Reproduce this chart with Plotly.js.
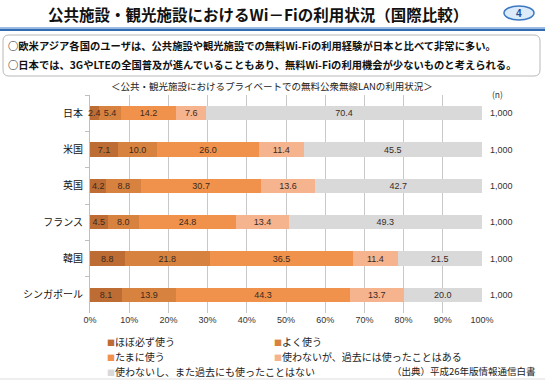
<!DOCTYPE html>
<html>
<head>
<meta charset="utf-8">
<script src="https://cdn.plot.ly/plotly-3.0.1.min.js"></script>
<style>
html,body{margin:0;padding:0;background:#fff;}
#chart{width:545px;height:380px;}
</style>
</head>
<body>
<div id="chart"></div>
<script>
const categories = ['日本','米国','英国','フランス','韓国','シンガポール'];
const seriesNames = ['ほぼ必ず使う','よく使う','たまに使う','使わないが、過去には使ったことはある','使わないし、また過去にも使ったことはない'];
const almostAlways = [2.4, 7.1, 4.2, 4.5, 8.8, 8.1];
const often = [5.4, 10.0, 8.8, 8.0, 21.8, 13.9];
const sometimes = [14.2, 26.0, 30.7, 24.8, 36.5, 44.3];
const pastOnly = [7.6, 11.4, 13.6, 13.4, 11.4, 13.7];
const never = [70.4, 45.5, 42.7, 49.3, 21.5, 20.0];
const sampleSizes = ['1,000','1,000','1,000','1,000','1,000','1,000'];
const xTicks = [0,10,20,30,40,50,60,70,80,90,100];

const colors = ['#BD6C34','#D8823F','#F0924C','#F5B38E','#D9D9D9'];
const values = [almostAlways, often, sometimes, pastOnly, never];

const JP = '"Noto Sans CJK JP", sans-serif';
const NUMFONT = '"Liberation Sans", Arial, sans-serif';

// pixel helpers for decoration (plot area: x 90..482, y 95..313)
const L = 90, R = 482, T = 95, B = 313;
const px = x => (x - L) / (R - L);
const py = y => (B - y) / (B - T);

const NARROW = 4; // segments narrower than this get their label as an annotation
const labelFont = {family: NUMFONT, size: 9, color: '#3a2a1f'};

const traces = values.map((v, i) => ({
  type: 'bar',
  orientation: 'h',
  name: seriesNames[i],
  y: categories,
  x: v,
  marker: {color: colors[i], line: {width: 0}},
  texttemplate: '%{x:.1f}',
  textposition: v.map(val => val < NARROW ? 'none' : 'inside'),
  insidetextanchor: 'middle',
  textangle: 0,
  constraintext: 'none',
  textfont: labelFont,
  hoverinfo: 'skip',
  showlegend: false
}));

const annotations = [];
// labels for narrow segments, placed at the segment's centre
categories.forEach((c, j) => {
  let cum = 0;
  values.forEach(v => {
    if (v[j] < NARROW) {
      annotations.push({xref:'x', yref:'y', x: cum + v[j] / 2, y: c, xanchor:'center', yanchor:'middle',
        text: v[j].toFixed(1), showarrow:false, font: labelFont});
    }
    cum += v[j];
  });
});
// title
annotations.push({xref:'paper', yref:'paper', x: px(258), y: py(14), xanchor:'center', yanchor:'middle',
  text:'公共施設・観光施設におけるWi－Fiの利用状況（国際比較）', showarrow:false,
  font:{family:JP, size:15.5, color:'#111', weight:'bold'}});
// badge number
annotations.push({xref:'paper', yref:'paper', x: px(519), y: py(13), xanchor:'center', yanchor:'middle',
  text:'4', showarrow:false, font:{family:'Arial, sans-serif', size:10, color:'#1f4f9a', weight:'bold'}});
// bullet lines
annotations.push({xref:'paper', yref:'paper', x: px(6), y: py(46), xanchor:'left', yanchor:'middle',
  text:'○欧米アジア各国のユーザは、公共施設や観光施設での無料Wi-Fiの利用経験が日本と比べて非常に多い。', showarrow:false,
  font:{family:JP, size:10.3, color:'#111', weight:'bold'}});
annotations.push({xref:'paper', yref:'paper', x: px(6), y: py(65), xanchor:'left', yanchor:'middle',
  text:'○日本では、3GやLTEの全国普及が進んでいることもあり、無料Wi-Fiの利用機会が少ないものと考えられる。', showarrow:false,
  font:{family:JP, size:10.3, color:'#111', weight:'bold'}});
// chart subtitle
annotations.push({xref:'paper', yref:'paper', x: px(272), y: py(86), xanchor:'center', yanchor:'middle',
  text:'＜公共・観光施設におけるプライベートでの無料公衆無線LANの利用状況＞', showarrow:false,
  font:{family:JP, size:9.5, color:'#222'}});
// (n)
annotations.push({xref:'paper', yref:'paper', x: px(497), y: py(94), xanchor:'center', yanchor:'middle',
  text:'(n)', showarrow:false, font:{family:JP, size:8.5, color:'#333'}});
// sample sizes
categories.forEach((c, i) => {
  annotations.push({xref:'paper', yref:'y', x: px(488), y: c, xanchor:'left', yanchor:'middle',
    text: sampleSizes[i], showarrow:false, font:{family:NUMFONT, size:9, color:'#333'}});
});
// legend (manual)
const legendPos = [[105,341],[272,341],[105,356],[272,356],[105,371]];
seriesNames.forEach((n, i) => {
  annotations.push({xref:'paper', yref:'paper', x: px(legendPos[i][0]), y: py(legendPos[i][1]), xanchor:'left', yanchor:'middle',
    text: '<span style="color:' + colors[i] + ';font-size:8px">■</span>' + n, showarrow:false,
    font:{family:JP, size:10, color:'#222'}});
});
// source
annotations.push({xref:'paper', yref:'paper', x: px(538), y: py(371), xanchor:'right', yanchor:'middle',
  text:'（出典）平成26年版情報通信白書', showarrow:false, font:{family:JP, size:9.5, color:'#222'}});

const boxL = px(3), boxR = px(540), boxT = py(35), boxB = py(76);
const rx = 6/392, ry = 6/218;
const boxPath = `M ${boxL+rx},${boxT} L ${boxR-rx},${boxT} Q ${boxR},${boxT} ${boxR},${boxT-ry} L ${boxR},${boxB+ry} Q ${boxR},${boxB} ${boxR-rx},${boxB} L ${boxL+rx},${boxB} Q ${boxL},${boxB} ${boxL},${boxB+ry} L ${boxL},${boxT-ry} Q ${boxL},${boxT} ${boxL+rx},${boxT} Z`;

const shapes = [
  // blue header line
  {type:'rect', xref:'paper', yref:'paper', x0:px(0), x1:px(545), y0:py(31), y1:py(28.5), fillcolor:'#2F6CB3', line:{width:0}},
  {type:'rect', xref:'paper', yref:'paper', x0:px(0), x1:px(545), y0:py(28.5), y1:py(27), fillcolor:'#9DBCE3', line:{width:0}},
  // bullet box
  {type:'path', xref:'paper', yref:'paper', path: boxPath, line:{color:'#B8B8B8', width:1}, fillcolor:'rgba(0,0,0,0)'},
  // badge
  {type:'circle', xref:'paper', yref:'paper', x0:px(504), x1:px(534), y0:py(20), y1:py(6), fillcolor:'#DCEBFA', line:{color:'#3B78C2', width:1.5}},
  // bottom faint line
  {type:'line', xref:'paper', yref:'paper', x0:px(0), x1:px(545), y0:py(379), y1:py(379), line:{color:'#DDDDDD', width:1}}
];

const layout = {
  width: 545, height: 380,
  margin: {l: L, r: 545 - R, t: T, b: 380 - B, pad: 0},
  paper_bgcolor: '#fff', plot_bgcolor: '#fff',
  barmode: 'stack',
  bargap: 0.61,
  showlegend: false,
  xaxis: {
    range: [0, 100], tickvals: xTicks, ticktext: xTicks.map(t => t + '%'),
    showgrid: true, gridcolor: '#C8C8C8', gridwidth: 1,
    zeroline: false, showline: false, ticks: '',
    tickfont: {family: NUMFONT, size: 9, color: '#333'},
    fixedrange: true
  },
  yaxis: {
    type: 'category', autorange: 'reversed',
    showline: true, linecolor: '#BFBFBF', linewidth: 1,
    ticks: 'outside', tickson: 'boundaries', ticklen: 4, tickcolor: '#BFBFBF',
    showgrid: false,
    tickfont: {family: JP, size: 10, color: '#111'},
    ticklabelstandoff: 4,
    fixedrange: true
  },
  annotations: annotations,
  shapes: shapes,
  font: {family: JP}
};

Plotly.newPlot('chart', traces, layout, {displayModeBar: false, staticPlot: true});
</script>
</body>
</html>
